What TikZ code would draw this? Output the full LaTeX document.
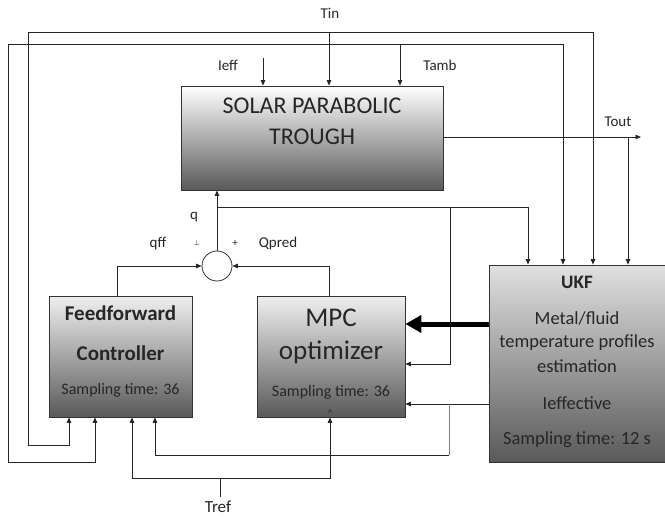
\documentclass[tikz,border=0pt]{standalone}
\usepackage{fontspec}
\setmainfont{Carlito}
\newfontfamily\djv{DejaVu Sans}
\usetikzlibrary{arrows.meta}
\begin{document}
\begin{tikzpicture}[x=1pt,y=-1pt,
  ln/.style={draw=black!85, line width=0.8pt},
  arr/.style={ln,-{Triangle[length=5.5pt,width=4.5pt]}},
  blk/.style={draw=black!80, line width=0.8pt, inner sep=0pt, anchor=center,
    top color=#1, middle color=black!22, bottom color=black!65},
  lbl/.style={inner sep=0pt, text=black!85, font=\fontsize{15}{17}\selectfont},
  txt/.style={inner sep=0pt, text=black!85}]
\useasboundingbox (0,0) rectangle (665,519);
% blocks
\node[blk=white, minimum width=262pt, minimum height=104pt] (spt) at (312,138) {};
\node[blk=black!6, minimum width=143pt, minimum height=121pt] (ff) at (120.5,356.5) {};
\node[blk=black!6, minimum width=148pt, minimum height=121pt] (mpc) at (331,356.5) {};
\node[blk=black!12, minimum width=176pt, minimum height=197pt] (ukf) at (577,363.5) {};
\node[draw=black!80, line width=0.8pt, circle, minimum size=30pt, inner sep=0pt, fill=white] (sum) at (217,266) {};
% block texts
\node[txt, font=\fontsize{24}{28}\selectfont] (t1) at (312,106) {SOLAR PARABOLIC};
\node[txt, font=\fontsize{24}{28}\selectfont] (t2) at (312,137) {TROUGH};
\node[txt, font=\fontsize{21}{24}\selectfont\bfseries] (t3) at (120.5,313) {Feedforward};
\node[txt, font=\fontsize{21}{24}\selectfont\bfseries] (t4) at (120.5,353) {Controller};
\node[txt, font=\fontsize{16}{19}\selectfont] (t5) at (120.5,390) {Sampling time: 36};
\node[txt, font=\fontsize{27}{30}\selectfont] (t6) at (331,318) {MPC};
\node[txt, font=\fontsize{27}{30}\selectfont] (t7) at (331,352) {optimizer};
\node[txt, font=\fontsize{16}{19}\selectfont] (t8) at (331,392) {Sampling time: 36};
\node[txt, font=\fontsize{10}{11}\selectfont] (t9) at (330,413) {\textasciicircum};
\node[txt, font=\fontsize{19}{22}\selectfont\bfseries] (t10) at (577,282) {UKF};
\node[txt, font=\fontsize{18.5}{22}\selectfont] (t11) at (577,318) {Metal/fluid};
\node[txt, font=\fontsize{18.5}{22}\selectfont] (t12) at (577,343) {temperature profiles};
\node[txt, font=\fontsize{18.5}{22}\selectfont] (t13) at (577,366) {estimation};
\node[txt, font=\fontsize{18.5}{22}\selectfont] (t14) at (577,403) {Ieffective};
\node[txt, font=\fontsize{18.5}{22}\selectfont] (t15) at (577,440) {Sampling time: 12 s};
% labels
\node[lbl] (lTin) at (330,13) {Tin};
\node[lbl] (lIeff) at (228,65) {Ieff};
\node[lbl] (lTamb) at (440,65) {Tamb};
\node[lbl] (lTout) at (618,122) {Tout};
\node[lbl] (lq) at (194,217) {q};
\node[lbl] (lqff) at (158,244) {qff};
\node[inner sep=0pt, text=black!85, font=\djv\fontsize{7}{8}\selectfont] (lm) at (197,243) {⊥};
\node[lbl, font=\fontsize{11}{12}\selectfont] (lp) at (235,243) {+};
\node[lbl] (lQ) at (278,244) {Qpred};
\node[lbl, font=\fontsize{17}{19}\selectfont] (lTref) at (218,507) {Tref};
% junction coordinates
\coordinate (tinj) at (329,32);
\coordinate (tambj) at (400,44);
\coordinate (ieffs) at (263,58);
\coordinate (toutj) at (628,137);
\coordinate (toutend) at (641,137);
\coordinate (qj) at (217,207);
\coordinate (qj2) at (450,207);
\coordinate (ieffj) at (449,404);
\coordinate (trefs) at (220,497);
\coordinate (trefj) at (220,478);
% top inputs
\draw[arr] (ieffs) -- (ieffs |- spt.north);
\draw[arr] (tinj) -- (tinj |- spt.north);
\draw[arr] (tambj) -- (tambj |- spt.north);
% Tin loop
\draw[arr] (tinj) -- (593,32) -- (593,0 |- ukf.north);
\draw[arr] (tinj) -- (28,32) -- (28,445) -- (69,445) -- (69,0 |- ff.south);
% Tamb loop
\draw[arr] (tambj) -- (563,44) -- (563,0 |- ukf.north);
\draw[arr] (tambj) -- (8,44) -- (8,462) -- (95,462) -- (95,0 |- ff.south);
% Tout
\draw[arr] (spt.east |- toutj) -- (toutend);
\draw[arr] (toutj) -- (toutj |- ukf.north);
% q
\draw[arr] (sum.north) -- (sum.north |- spt.south);
\draw[arr] (qj) -- (528,207) -- (528,0 |- ukf.north);
\draw[arr] (qj2) -- (450,364) -- (450,364 -| mpc.east);
% summing inputs
\draw[arr] (117,0 |- ff.north) -- (117,266) -- (sum.west);
\draw[arr] (329,0 |- mpc.north) -- (329,266) -- (sum.east);
% UKF to MPC
\draw[draw=black, line width=5pt, -{Triangle[length=16pt,width=17pt]}] (ukf.west |- 0,324) -- (mpc.east |- 0,324);
\draw[arr] (ukf.west |- ieffj) -- (mpc.east |- ieffj);
\draw[draw=black!50, line width=0.8pt] (ieffj) -- (449,455);
\draw[arr] (449,455) -- (155,455) -- (155,0 |- ff.south);
% Tref
\draw[ln] (trefs) -- (trefj);
\draw[arr] (trefj) -- (132,478) -- (132,0 |- ff.south);
\draw[arr] (trefj) -- (330,478) -- (330,0 |- mpc.south);
\end{tikzpicture}
\end{document}
